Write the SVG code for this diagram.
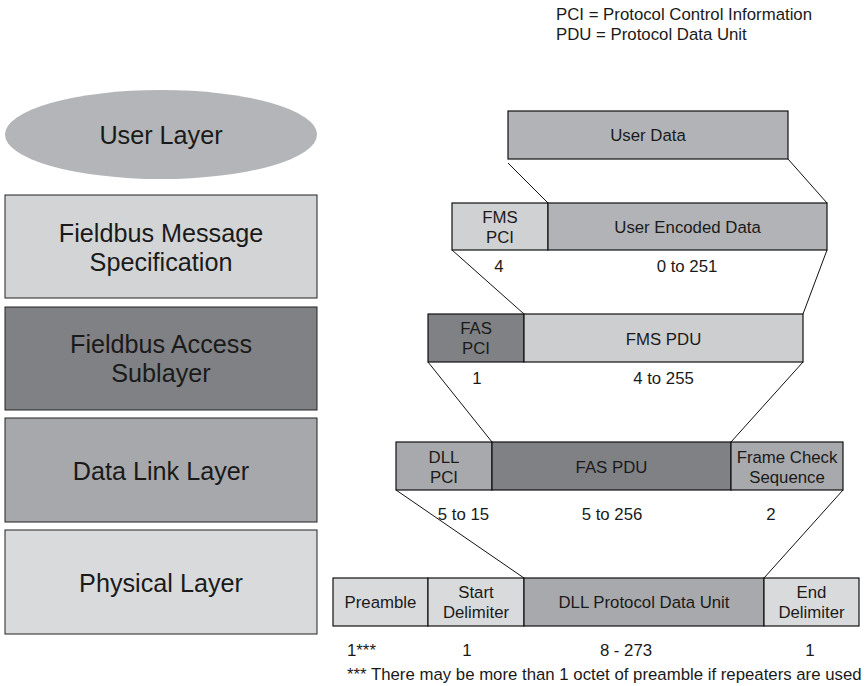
<svg xmlns="http://www.w3.org/2000/svg" width="868" height="686" viewBox="0 0 868 686">
  <style>
    text { font-family: "Liberation Sans", Arial, sans-serif; fill: #1a1a1a; text-anchor: middle; }
    .big { font-size: 25.2px; }
    .sm { font-size: 16.8px; }
    .lft { text-anchor: start; }
    .layer { stroke: #222; stroke-width: 1; }
    .cell { stroke: #111; stroke-width: 1.2; }
    .light { fill: #d9dadc; }
    .pale { fill: #d0d1d3; }
    .mid { fill: #a8a9ac; }
    .midb { fill: #b2b3b6; }
    .dark { fill: #808185; }
    .conn line { stroke: #111; stroke-width: 1; }
  </style>

  <rect width="868" height="686" fill="#ffffff"/>

  <!-- legend -->
  <g id="legend">
    <text class="sm lft" x="556" y="19.5">PCI = Protocol Control Information</text>
    <text class="sm lft" x="556" y="40">PDU = Protocol Data Unit</text>
  </g>

  <!-- protocol stack -->
  <g id="user-layer">
    <ellipse cx="161" cy="134.5" rx="156" ry="44.5" fill="#b4b5b8"/>
    <text class="big" x="161" y="143.5">User Layer</text>
  </g>
  <g id="fms-layer">
    <rect class="layer" x="5" y="195" width="312" height="103" fill="#d3d4d6"/>
    <text class="big" x="161" y="241.5">Fieldbus Message</text>
    <text class="big" x="161" y="270.5">Specification</text>
  </g>
  <g id="fas-layer">
    <rect class="layer" x="5" y="307" width="312" height="103" fill="#808184"/>
    <text class="big" x="161" y="353">Fieldbus Access</text>
    <text class="big" x="161" y="382">Sublayer</text>
  </g>
  <g id="dll-layer">
    <rect class="layer" x="5" y="418" width="312" height="104" fill="#a7a8ab"/>
    <text class="big" x="161" y="479.5">Data Link Layer</text>
  </g>
  <g id="physical-layer">
    <rect class="layer" x="5" y="530" width="312" height="104" fill="#d9dadc"/>
    <text class="big" x="161" y="591.5">Physical Layer</text>
  </g>

  <!-- frame encapsulation -->
  <g id="user-data">
    <rect class="cell midb" x="508" y="111" width="280" height="48"/>
    <text class="sm" x="648" y="141">User Data</text>
  </g>

  <g id="fms-pci">
    <rect class="cell pale" x="452" y="203" width="96" height="47"/>
    <text class="sm" x="500" y="223">FMS</text>
    <text class="sm" x="500" y="243">PCI</text>
    <text class="sm" x="499" y="272">4</text>
  </g>
  <g id="user-encoded-data">
    <rect class="cell midb" x="548" y="203" width="279" height="47"/>
    <text class="sm" x="687.5" y="233">User Encoded Data</text>
    <text class="sm" x="687" y="272">0 to 251</text>
  </g>

  <g id="fas-pci">
    <rect class="cell dark" x="428" y="314" width="96" height="48"/>
    <text class="sm" x="476" y="334">FAS</text>
    <text class="sm" x="476" y="354">PCI</text>
    <text class="sm" x="477" y="384">1</text>
  </g>
  <g id="fms-pdu">
    <rect class="cell" x="524" y="314" width="279" height="48" fill="#cdced0"/>
    <text class="sm" x="663.5" y="344.5">FMS PDU</text>
    <text class="sm" x="663.5" y="384">4 to 255</text>
  </g>

  <g id="dll-pci">
    <rect class="cell mid" x="396" y="442" width="96" height="48"/>
    <text class="sm" x="444" y="463">DLL</text>
    <text class="sm" x="444" y="483">PCI</text>
    <text class="sm" x="463.5" y="520">5 to 15</text>
  </g>
  <g id="fas-pdu">
    <rect class="cell dark" x="492" y="442" width="239" height="48"/>
    <text class="sm" x="611.5" y="472.5">FAS PDU</text>
    <text class="sm" x="612" y="520">5 to 256</text>
  </g>
  <g id="frame-check-sequence">
    <rect class="cell mid" x="731" y="442" width="112" height="48"/>
    <text class="sm" x="787" y="463">Frame Check</text>
    <text class="sm" x="787" y="483">Sequence</text>
    <text class="sm" x="771" y="520">2</text>
  </g>

  <g id="preamble">
    <rect class="cell light" x="333" y="578" width="95" height="48"/>
    <text class="sm" x="380.5" y="608">Preamble</text>
    <text class="sm lft" x="347" y="656">1***</text>
  </g>
  <g id="start-delimiter">
    <rect class="cell light" x="428" y="578" width="96" height="48"/>
    <text class="sm" x="476" y="598">Start</text>
    <text class="sm" x="476" y="618">Delimiter</text>
    <text class="sm" x="467" y="656">1</text>
  </g>
  <g id="dll-protocol-data-unit">
    <rect class="cell mid" x="524" y="578" width="240" height="48"/>
    <text class="sm" x="644" y="608">DLL Protocol Data Unit</text>
    <text class="sm" x="626" y="656">8 - 273</text>
  </g>
  <g id="end-delimiter">
    <rect class="cell light" x="764" y="578" width="95" height="48"/>
    <text class="sm" x="811.5" y="598">End</text>
    <text class="sm" x="811.5" y="618">Delimiter</text>
    <text class="sm" x="810" y="656">1</text>
  </g>

  <g id="footnote">
    <text class="sm lft" x="347" y="680">*** There may be more than 1 octet of preamble if repeaters are used</text>
  </g>

  <!-- expansion lines between frame levels -->
  <g id="connectors" class="conn">
    <line x1="508" y1="163" x2="548" y2="203"/>
    <line x1="788" y1="159" x2="827" y2="203"/>
    <line x1="452" y1="250" x2="524" y2="314"/>
    <line x1="827" y1="250" x2="803" y2="314"/>
    <line x1="428" y1="362" x2="492" y2="442"/>
    <line x1="803" y1="362" x2="731" y2="442"/>
    <line x1="396" y1="490" x2="524" y2="578"/>
    <line x1="843" y1="490" x2="764" y2="578"/>
  </g>
</svg>
